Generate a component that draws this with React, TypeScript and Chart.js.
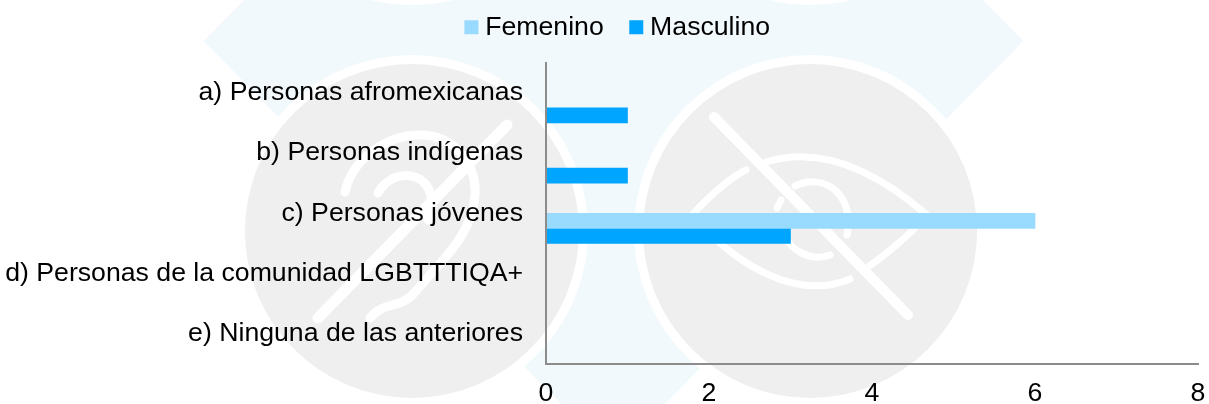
import React, { useEffect, useRef } from "react";
import { Chart, registerables } from "chart.js";

Chart.register(...registerables);

const categories = [
  "a) Personas afromexicanas",
  "b) Personas indígenas",
  "c) Personas jóvenes",
  "d) Personas de la comunidad LGBTTTIQA+",
  "e) Ninguna de las anteriores",
];
const femenino = [0, 0, 6, 0, 0];
const masculino = [1, 1, 3, 0, 0];
const xTicks = [0, 2, 4, 6, 8];

const FONT = "'Liberation Sans', Arial, sans-serif";
const FONT_SIZE = 26.67;

// Moves the legend box to where the source chart has it.
const legendPlacement = {
  id: "legendPlacement",
  afterLayout(chart: any) {
    const legend = chart.legend;
    if (!legend) return;
    legend.left += 16;
    legend.right += 16;
    legend.top -= 12;
    legend.bottom -= 12;
  },
};

function Watermark() {
  return (
    <svg
      width={1209}
      height={404}
      viewBox="0 0 1209 404"
      style={{ position: "absolute", left: 0, top: 0 }}
    >
      <path
        d="M613 -370 L1022 41 L613 455 L205 41 Z"
        fill="#f1f9fc"
        stroke="#f1f9fc"
        strokeWidth={2}
        strokeLinejoin="round"
      />
      <circle cx={412} cy={-170} r={175} fill="#ffffff" />
      <circle cx={810} cy={-170} r={175} fill="#ffffff" />
      <circle cx={412} cy={231} r={176} fill="#ffffff" />
      <circle cx={810} cy={231} r={176} fill="#ffffff" />
      <circle cx={412} cy={231} r={167} fill="#efefef" />
      <circle cx={810} cy={231} r={167} fill="#efefef" />
      <g fill="none" stroke="#ffffff" strokeWidth={7} strokeLinecap="round">
        <path d="M507 125 L318 318" strokeWidth={11} />
        <path d="M345 192 C352 160 385 135 420 135 C455 135 477 165 475 195 C473 235 440 262 415 292 C400 310 385 300 370 318" strokeWidth={9} />
        <path d="M378 193 C385 180 400 172 415 177 C432 183 436 205 428 220" strokeWidth={9} />
        <path d="M714 117 L908 315" strokeWidth={10} />
        <path d="M692 215 C715 190 735 175 746 170 M766 162 C820 145 875 170 927 215 C905 240 885 255 868 267 M850 279 C800 300 740 270 692 215" />
        <path d="M795 186 C825 172 855 195 847 235 M830 255 C810 262 790 250 785 235 M777 208 L781 200" />
      </g>
    </svg>
  );
}

export default function App() {
  const ref = useRef<HTMLCanvasElement | null>(null);

  useEffect(() => {
    if (!ref.current) return;
    const chart = new Chart(ref.current, {
      type: "bar",
      plugins: [legendPlacement],
      data: {
        labels: categories,
        datasets: [
          // Two empty slots: the source chart's bars sit in the lower half of each band.
          { label: "", data: [], backgroundColor: "transparent" },
          { label: "", data: [], backgroundColor: "transparent" },
          { label: "Femenino", data: femenino, backgroundColor: "#99daff" },
          { label: "Masculino", data: masculino, backgroundColor: "#00a5ff" },
        ],
      },
      options: {
        indexAxis: "y",
        animation: false,
        responsive: false,
        maintainAspectRatio: false,
        datasets: { bar: { barPercentage: 1, categoryPercentage: 1 } },
        layout: { padding: { top: -6, left: 0, right: 0, bottom: 0 } },
        plugins: {
          tooltip: { enabled: false },
          legend: {
            position: "top",
            align: "center",
            maxHeight: 81,
            labels: {
              filter: (item: any) => item.text !== "",
              usePointStyle: true,
              pointStyle: "rect",
              boxWidth: 1,
              boxHeight: 14,
              padding: 32,
              color: "#000000",
              font: { family: FONT, size: FONT_SIZE },
            },
          },
        },
        scales: {
          x: {
            min: 0,
            max: 8,
            afterBuildTicks: (scale: any) => {
              scale.ticks = xTicks.map((value) => ({ value }));
            },
            afterFit: (scale: any) => {
              scale.height = 40;
              scale.paddingRight = 11;
            },
            grid: { display: false, drawTicks: false },
            border: { display: true, color: "#8c8c8c", width: 2, z: 1 },
            ticks: {
              padding: 14,
              color: "#000000",
              maxRotation: 0,
              font: { family: FONT, size: FONT_SIZE },
            },
          },
          y: {
            afterFit: (scale: any) => {
              scale.width = 546;
            },
            grid: { display: false, drawTicks: false },
            border: { display: true, color: "#8c8c8c", width: 2, z: 1 },
            ticks: {
              padding: 23,
              color: "#000000",
              autoSkip: false,
              font: { family: FONT, size: FONT_SIZE },
            },
          },
        },
      },
    });
    return () => chart.destroy();
  }, []);

  return (
    <div
      style={{
        position: "absolute",
        left: 0,
        top: 0,
        width: 1209,
        height: 404,
        overflow: "hidden",
        background: "#ffffff",
      }}
    >
      <Watermark />
      <canvas
        ref={ref}
        width={1209}
        height={404}
        style={{ position: "absolute", left: 0, top: 0, width: 1209, height: 404 }}
      />
    </div>
  );
}
